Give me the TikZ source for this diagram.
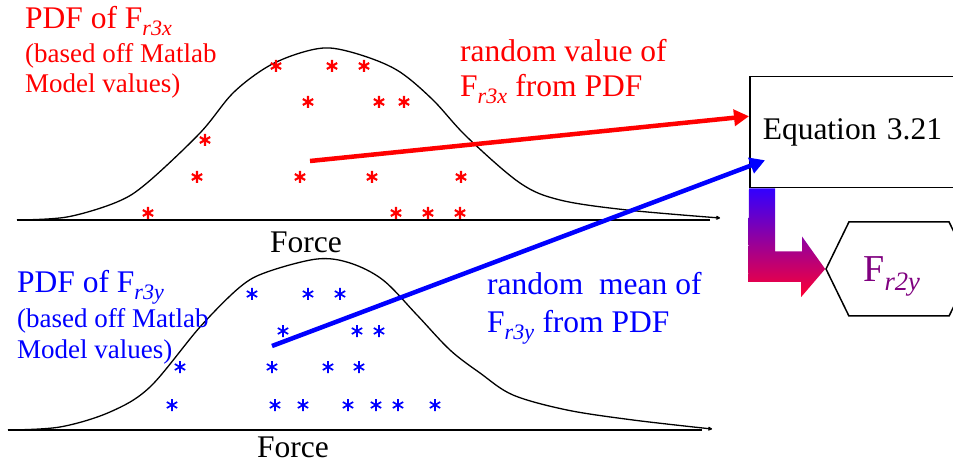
\documentclass[tikz,border=0pt]{standalone}
\usepackage{fontspec}
\setmainfont{Liberation Serif}
\usetikzlibrary{arrows.meta, shapes.symbols, positioning}

\definecolor{shadeblue}{RGB}{50,0,255}
\definecolor{shademid}{RGB}{215,0,165}
\definecolor{shadered}{RGB}{255,0,50}
\definecolor{frpurple}{RGB}{128,0,128}

\tikzset{
  aster/.pic={\draw (90:6) -- (270:6) (30:6) -- (210:6) (150:6) -- (330:6);}
}

\newcommand{\bigtxt}{\fontsize{31.5}{35}\selectfont}
\newcommand{\smalltxt}{\fontsize{27}{30}\selectfont}
\newcommand{\Fsub}[1]{F\textsubscript{\textit{#1}}}

\begin{document}
\begin{tikzpicture}[x=1pt, y=-1pt,
    lbl/.style={anchor=base west, inner sep=0pt},
    pdfcurve/.style={line width=1.3pt, -{To[length=4pt,width=4pt]}},
    axisline/.style={line width=1.5pt},
    pick/.style={line width=4.5pt, -{Triangle[length=15pt,width=16pt]}}]
    \useasboundingbox (0,0) rectangle (953,462);
    \fill[white] (0,0) rectangle (953,462);
    \clip (0,0) rectangle (953,462);

    % Upper PDF
    \draw[axisline] (17,220) -- (710,220);
    \draw[pdfcurve] plot[smooth, tension=0.55] coordinates {(17,220) (67,217) (117,202) (147,183) (200,133) (233,93) (267,67) (300,53) (330,48) (367,57) (400,72) (433,100) (467,137) (520,183) (560,200) (627,210) (720,218)};
    \foreach \x/\y in {276/66, 332/66, 364/66, 308/102, 379/102, 404/102, 205/140, 197/177, 300/177, 372/177, 461/177, 148/213, 396/213, 428/213, 460/213}
        \pic[red, line width=2.1pt] at (\x,\y) {aster};
    \node[lbl] (forcex) at (270,253) {\bigtxt Force};

    % Lower PDF
    \draw[axisline] (8,430) -- (702,430);
    \draw[pdfcurve] plot[smooth, tension=0.55] coordinates {(8,430) (60,427) (110,412) (150,387) (200,327) (240,287) (267,272) (317,259) (350,263) (383,280) (417,315) (450,350) (480,373) (513,395) (567,410) (633,420) (712,429)};
    \foreach \x/\y in {252/294, 308/294, 340/294, 283/331, 357/331, 379/331, 180/367, 272/367, 328/367, 359/367, 172/405, 275/405, 303/405, 348/405, 376/405, 398/405, 435/405}
        \pic[blue, line width=1.7pt] at (\x,\y) {aster};
    \node[lbl] (forcey) at (257,457) {\bigtxt Force};

    % Labels
    \node[lbl, red] (pdfx) at (25,29) {\bigtxt PDF of \Fsub{r3x}};
    \node[lbl, red] (pdfxa) at (25,63) {\smalltxt (based off Matlab};
    \node[lbl, red] (pdfxb) at (25,93) {\smalltxt Model values)};
    \node[lbl, red] (randx) at (460,62) {\bigtxt random value of};
    \node[lbl, red] (randxb) at (460,97) {\bigtxt \Fsub{r3x} from PDF};
    \node[lbl, blue] (pdfy) at (17,293) {\bigtxt PDF of \Fsub{r3y}};
    \node[lbl, blue] (pdfya) at (17,327) {\smalltxt (based off Matlab};
    \node[lbl, blue] (pdfyb) at (17,358) {\smalltxt Model values)};
    \node[lbl, blue] (randy) at (487,295) {\bigtxt random\ \ mean of};
    \node[lbl, blue] (randyb) at (487,333) {\bigtxt \Fsub{r3y} from PDF};

    % Equation and result
    \node[draw, line width=1.5pt, anchor=north west, minimum height=111pt, text width=210pt,
          inner xsep=13pt, align=left, font=\bigtxt] (eqbox) at (749,76) {Equation 3.21};
    \node[draw, line width=1.5pt, shape=signal, signal to=east and west, signal pointer angle=128,
          minimum width=146pt, minimum height=94pt, inner sep=0pt, text=frpurple,
          font=\fontsize{38}{40}\selectfont, text height=25pt, text depth=0pt] (fr2y) at (899,269) {\Fsub{r2y}\hspace*{14pt}};

    % Picks
    \coordinate (xpick) at (310,161);
    \coordinate (ypick) at (272,346);
    \draw[pick, red] (xpick) -- ([yshift=16pt]eqbox.west);
    \draw[pick, blue] (ypick) -- ([xshift=16pt,yshift=-28pt]eqbox.west);

    % Bent arrow
    \shade[top color=shadeblue, middle color=shademid, bottom color=shadered]
        (eqbox.south west) -- ++(26,0) -- ++(0,63) -- ++(27,0) -- ++(0,-15) -- (fr2y.west)
        -- ++(-24,28) -- ++(0,-15) -- ++(-53,0) -- cycle;
\end{tikzpicture}
\end{document}
